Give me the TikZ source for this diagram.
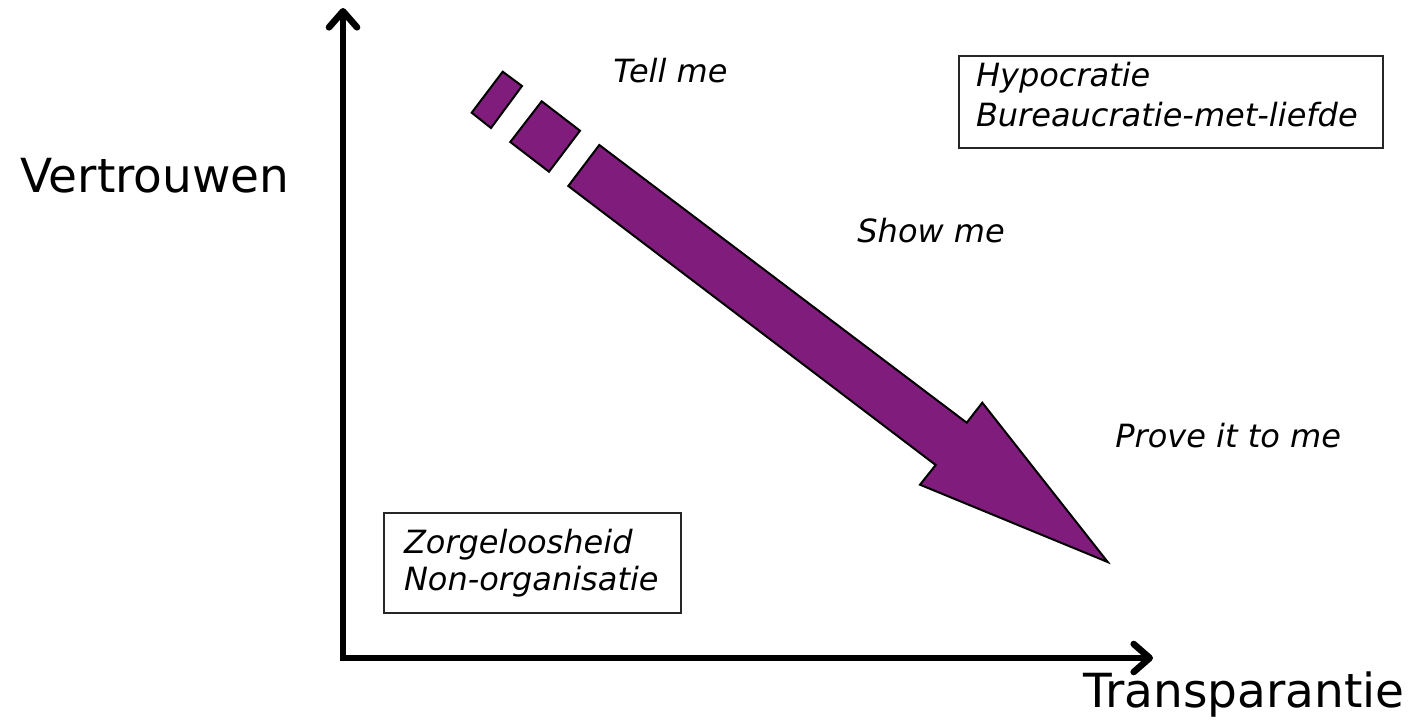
\documentclass[tikz,border=0pt]{standalone}
\usepackage{fontspec}
\setmainfont{DejaVu Sans}
\usetikzlibrary{arrows.meta}
\definecolor{flowpurple}{RGB}{128,28,124}
\begin{document}
\begin{tikzpicture}[x=0.5pt,y=-0.5pt,
  axis/.style={line width=3.3pt, line join=miter, {Straight Barb[round,length=8pt,width=14pt]}-{Straight Barb[round,length=8pt,width=14pt]}},
  piece/.style={fill=flowpurple, draw=black, line width=1pt, line join=miter},
  biglabel/.style={anchor=base west, inner sep=0pt, font=\fontsize{23.5}{28}\selectfont},
  itlabel/.style={anchor=base west, inner sep=0pt, font=\fontsize{16}{20}\selectfont\itshape},
  framebox/.style={draw=black!85, line width=1pt, anchor=north west, align=left, inner ysep=3pt}
]
\useasboundingbox (0,0) rectangle (1425,719);
% axes
\coordinate (ytip) at (343,8);
\coordinate (O) at (343,658);
\coordinate (xtip) at (1153,658);
\draw[axis] (ytip) -- (O) -- (xtip);
% dashed-start arrow pieces
\draw[piece] (502.7,71.7) -- (522,86) -- (491,128) -- (471.7,112.7) -- cycle;
\draw[piece] (541.7,101.3) -- (580,130.7) -- (549,171.7) -- (510.3,142) -- cycle;
\draw[piece] (599.3,145) -- (966.7,422.7) -- (982.3,402.7) -- (1107.7,562)
  -- (920,484.7) -- (935.7,465) -- (568.3,186) -- cycle;
% labels
\node[biglabel] (vert) at (20,192) {Vertrouwen};
\node[biglabel] (trans) at (1083,707) {Transparantie};
\node[itlabel] (tell) at (613,82) {Tell me};
\node[itlabel] (show) at (857,242) {Show me};
\node[itlabel] (prove) at (1115,447) {Prove it to me};
% boxes
\node[framebox, inner xsep=8.5pt, text width=195pt, text height=12pt, text depth=28pt,
  font=\fontsize{16}{20}\selectfont\itshape] (hypo) at (958,55)
  {Hypocratie\\Bureaucratie-met-liefde};
\node[framebox, inner xsep=10pt, text width=128.5pt, text height=17pt, text depth=27pt,
  font=\fontsize{16}{18.5}\selectfont\itshape] (zorg) at (383,512)
  {Zorgeloosheid\\Non-organisatie};
\end{tikzpicture}
\end{document}
